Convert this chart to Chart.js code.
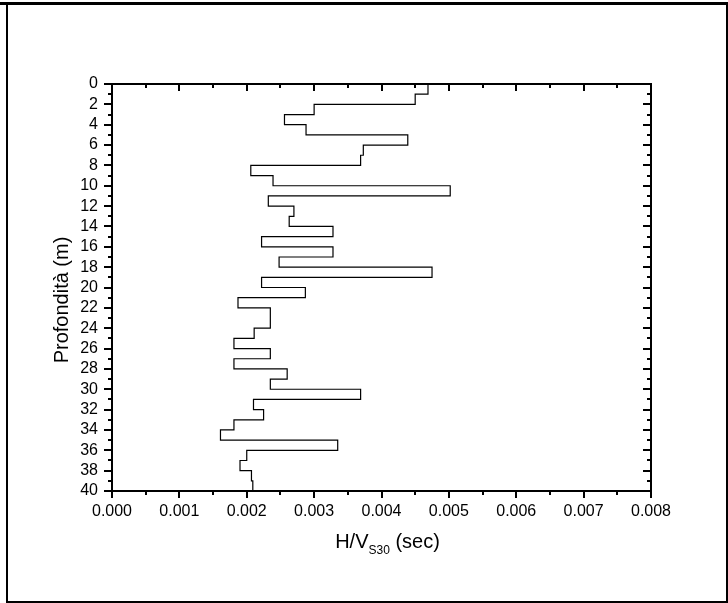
<!DOCTYPE html>
<html>
<head>
<meta charset="utf-8">
<script src="https://cdn.jsdelivr.net/npm/chart.js@4"></script>
<style>
  html, body { margin: 0; padding: 0; background: #fff; }
  #wrap { position: relative; width: 728px; height: 603px; overflow: hidden; }
  #topbar { position: absolute; left: 0; top: 2px; width: 728px; height: 3px; background: #000; }
  #box { position: absolute; left: 6px; top: 2px; width: 722px; height: 601px; box-sizing: border-box;
         border: 2px solid #000; border-top-width: 3px; }
  #chart { position: absolute; left: 0; top: 0; }
</style>
</head>
<body>
<div id="wrap">
  <div id="topbar"></div>
  <div id="box"></div>
  <canvas id="chart" width="728" height="603"></canvas>
</div>
<script>
// layer boundaries (m)
const layerDepth = [0,1,2,3,4,5,6,7,8,9,10,11,12,13,14,15,16,17,18,19,20,
                    21,22,23,24,25,26,27,28,29,30,31,32,33,34,35,36,37,38,39,40];
// H/Vs per layer (sec)
const hvs = [0.00469,0.00450,0.00300,0.00256,0.00288,0.00439,0.00373,0.00369,0.00206,0.00239,
             0.00502,0.00232,0.00270,0.00263,0.00328,0.00222,0.00328,0.00248,0.00475,0.00222,
             0.00287,0.00187,0.00235,0.00235,0.00211,0.00181,0.00235,0.00181,0.00260,0.00235,
             0.00369,0.00210,0.00225,0.00181,0.00161,0.00335,0.00200,0.00190,0.00207,0.00209];

const xTicks = [0,0.001,0.002,0.003,0.004,0.005,0.006,0.007,0.008];
const yTicks = [0,2,4,6,8,10,12,14,16,18,20,22,24,26,28,30,32,34,36,38,40];

const FONT = "'Liberation Sans', Arial, sans-serif";
Chart.defaults.font.family = FONT;
Chart.defaults.color = "#000";

// step profile: each layer is a vertical run from top to bottom
const points = [];
for (let i = 0; i < hvs.length; i++) {
  points.push({ x: hvs[i], y: layerDepth[i] });
  points.push({ x: hvs[i], y: layerDepth[i+1] });
}

function mids(arr) {
  const out = [];
  for (let i = 1; i < arr.length; i++) out.push((arr[i-1] + arr[i]) / 2);
  return out;
}

// frame, ticks on all four sides, and the two axis titles
const framePlugin = {
  id: "frame",
  afterDraw(chart) {
    const { ctx, chartArea: a, scales: { x, y } } = chart;
    ctx.save();
    ctx.strokeStyle = "#000";
    ctx.lineWidth = 2;
    ctx.strokeRect(a.left, a.top, a.right - a.left, a.bottom - a.top);

    ctx.beginPath();
    const xt = (v, len) => {
      const px = Math.round(x.getPixelForValue(v));
      ctx.moveTo(px, a.bottom); ctx.lineTo(px, a.bottom + len);
      ctx.moveTo(px, a.top); ctx.lineTo(px, a.top + len);
    };
    const yt = (v, len) => {
      const py = Math.round(y.getPixelForValue(v));
      ctx.moveTo(a.left, py); ctx.lineTo(a.left - len, py);
      ctx.moveTo(a.right, py); ctx.lineTo(a.right - len, py);
    };
    xTicks.forEach(v => xt(v, 7));
    mids(xTicks).forEach(v => xt(v, 4));
    yTicks.forEach(v => yt(v, 8));
    mids(yTicks).forEach(v => yt(v, 4));
    ctx.stroke();

    // y title
    ctx.fillStyle = "#000";
    ctx.font = "20px " + FONT;
    ctx.textAlign = "center";
    ctx.textBaseline = "middle";
    ctx.save();
    ctx.translate(62, 300);
    ctx.rotate(-Math.PI / 2);
    ctx.fillText("Profondità (m)", 0, 0);
    ctx.restore();

    // x title with subscript
    ctx.textAlign = "left";
    ctx.textBaseline = "alphabetic";
    const big = "20px " + FONT, small = "12px " + FONT;
    ctx.font = big;
    const w1 = ctx.measureText("H/V").width;
    const w3 = ctx.measureText(" (sec)").width;
    ctx.font = small;
    const w2 = ctx.measureText("S30").width;
    const cx = (a.left + a.right) / 2 + 6;
    let tx = cx - (w1 + w2 + w3) / 2;
    const base = 548;
    ctx.font = big;
    ctx.fillText("H/V", tx, base);
    tx += w1;
    ctx.font = small;
    ctx.fillText("S30", tx, base + 6);
    tx += w2;
    ctx.font = big;
    ctx.fillText(" (sec)", tx, base);
    ctx.restore();
  }
};

new Chart(document.getElementById("chart"), {
  type: "scatter",
  data: {
    datasets: [{
      data: points,
      showLine: true,
      borderColor: "#000",
      borderWidth: 1.2,
      pointRadius: 0,
      fill: false
    }]
  },
  options: {
    responsive: false,
    animation: false,
    layout: { padding: { top: 84, right: 77, left: 0, bottom: 0 } },
    plugins: { legend: { display: false }, tooltip: { enabled: false } },
    scales: {
      x: {
        type: "linear",
        min: 0, max: 0.008,
        afterBuildTicks: s => { s.ticks = xTicks.map(v => ({ value: v })); },
        afterFit: s => { s.height = 112; },
        grid: { display: false, drawTicks: false },
        border: { display: false },
        ticks: { padding: 11, font: { size: 16 }, color: "#000", maxRotation: 0, autoSkip: false,
                 callback: v => Number(v).toFixed(3) }
      },
      y: {
        type: "linear",
        reverse: true,
        min: 0, max: 40,
        afterBuildTicks: s => { s.ticks = yTicks.map(v => ({ value: v })); },
        afterFit: s => { s.width = 112; },
        grid: { display: false, drawTicks: false },
        border: { display: false },
        ticks: { padding: 14, font: { size: 16 }, color: "#000", autoSkip: false }
      }
    }
  },
  plugins: [framePlugin]
});
</script>
</body>
</html>
